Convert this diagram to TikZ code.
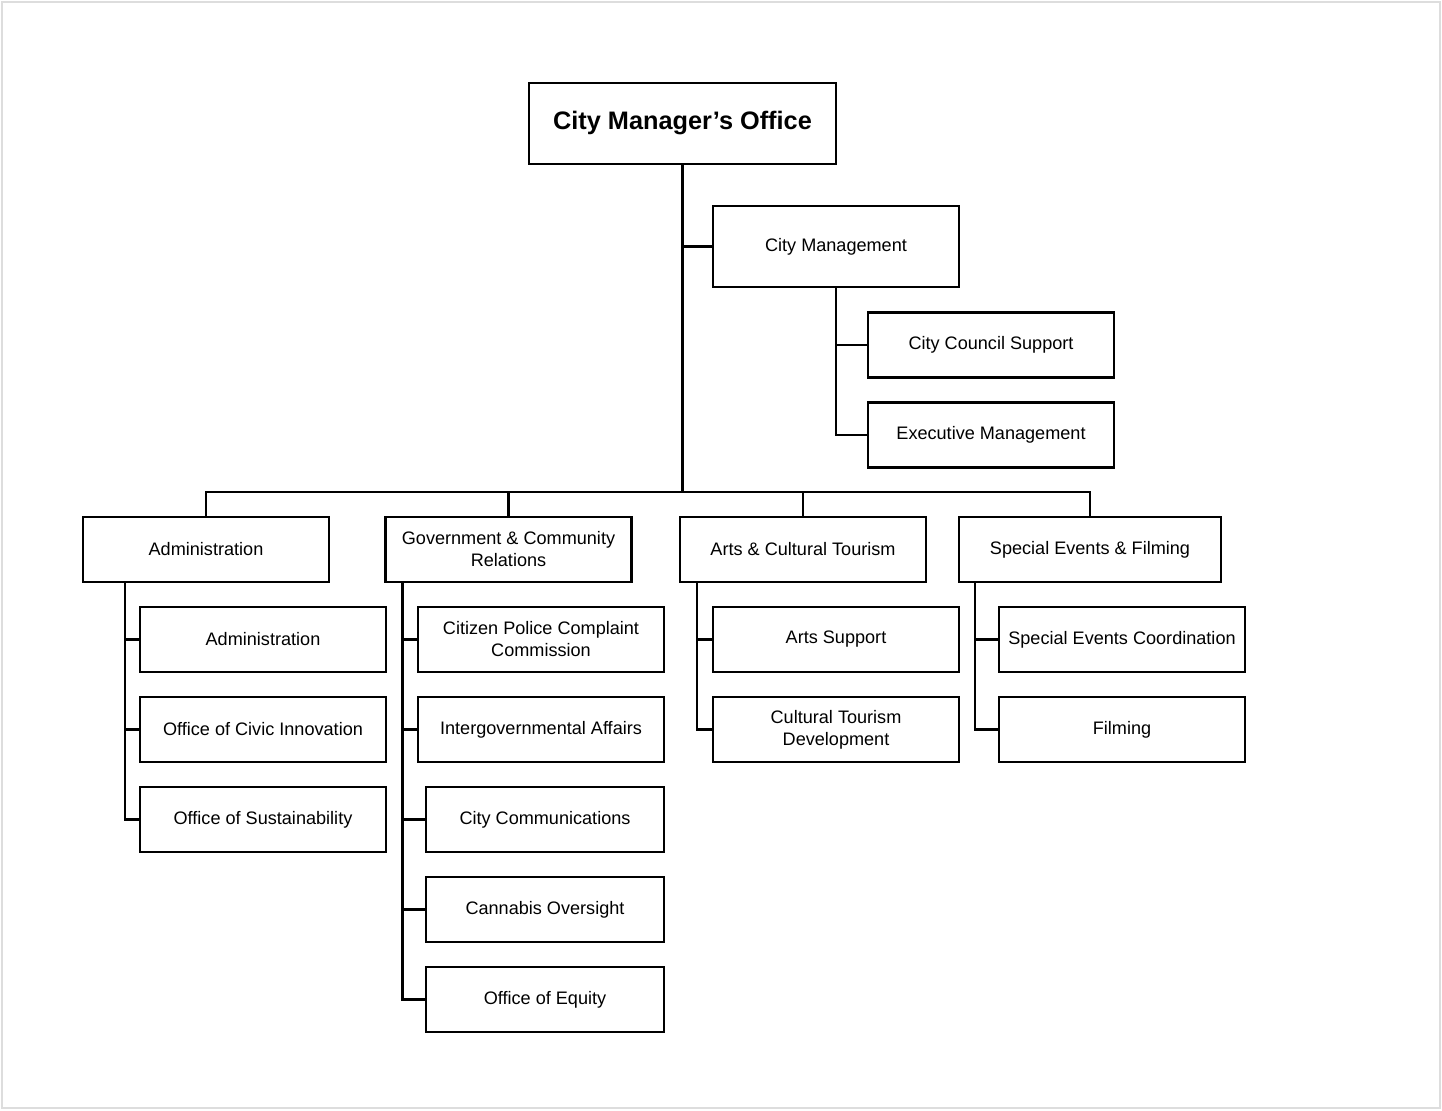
\documentclass[tikz,border=0pt]{standalone}
\usepackage{fontspec}
\setmainfont{Liberation Sans}
\usepackage{tikz}
\usetikzlibrary{positioning}
\definecolor{framegray}{HTML}{DDDDDD}

\begin{document}
\begin{tikzpicture}[
    x=0.02cm, y=-0.02cm,
    node distance=0.5cm,
    box/.style={rectangle, draw, line width=1.3pt, outer sep=0pt,
                minimum width=4.92cm, minimum height=1.3cm, align=center,
                inner sep=2pt, font=\fontsize{10.3}{12.5}\selectfont},
    headbox/.style={box, minimum width=6.14cm, minimum height=1.62cm,
                    line width=1.5pt, font=\fontsize{14.4}{17}\selectfont\bfseries},
    link/.style={line width=1.3pt},
  ]
  \useasboundingbox (0,0) rectangle (1442,1111);
  \draw[framegray, line width=0.8pt] (2,2) rectangle (1440,1108);

  % top of the chart
  \node[headbox] (cmo) at (682.5,123.5) {City Manager’s Office};
  \node[box, minimum height=1.62cm] (citymgmt) at (836,246.5) {City Management};
  \node[box] (council) at (991,345) {City Council Support};
  \node[box, below=of council] (exec) {Executive Management};

  % divisions
  \node[box] (admin) at (206,549.5) {Administration};
  \node[box] (gcr) at (508.5,549.5) {Government \& Community\\Relations};
  \node[box] (arts) at (803,549.5) {Arts \& Cultural Tourism};
  \node[box, minimum width=5.24cm] (events) at (1090,549.5) {Special Events \& Filming};

  % units
  \node[box] (adminsub) at (263,639.5) {Administration};
  \node[box, below=of adminsub] (civic) {Office of Civic Innovation};
  \node[box, below=of civic] (sustain) {Office of Sustainability};
  \node[box] (police) at (541,639.5) {Citizen Police Complaint\\Commission};
  \node[box, below=of police] (intergov) {Intergovernmental Affairs};
  \node[box, minimum width=4.76cm, below=of intergov.south east, anchor=north east] (comms) {City Communications};
  \node[box, minimum width=4.76cm, below=of comms] (cannabis) {Cannabis Oversight};
  \node[box, minimum width=4.76cm, below=of cannabis] (equity) {Office of Equity};
  \node[box] (artsup) at (836,639.5) {Arts Support};
  \node[box, below=of artsup] (tourdev) {Cultural Tourism\\Development};
  \node[box] (coord) at (1122,639.5) {Special Events Coordination};
  \node[box, below=of coord] (filming) {Filming};

  % connectors
  \coordinate (busy) at (0,492);
  \coordinate (bus) at (cmo.south |- busy);
  \draw[link] (cmo.south) -- (bus);
  \draw[link] (citymgmt.west) -- (citymgmt.west -| cmo.south);
  \foreach \n in {council, exec} \draw[link] (citymgmt.south) |- (\n.west);
  \draw[link] (admin.north) |- (bus) -| (events.north);
  \foreach \n in {gcr, arts} \draw[link] (\n.north) -- (\n.north |- bus);
  \foreach \n in {adminsub, civic, sustain}
    \draw[link] ([xshift=0.84cm]admin.south west) |- (\n.west);
  \foreach \n in {police, intergov, comms, cannabis, equity}
    \draw[link] ([xshift=0.34cm]gcr.south west) |- (\n.west);
  \foreach \n in {artsup, tourdev}
    \draw[link] ([xshift=0.34cm]arts.south west) |- (\n.west);
  \foreach \n in {coord, filming}
    \draw[link] ([xshift=0.32cm]events.south west) |- (\n.west);
\end{tikzpicture}
\end{document}
